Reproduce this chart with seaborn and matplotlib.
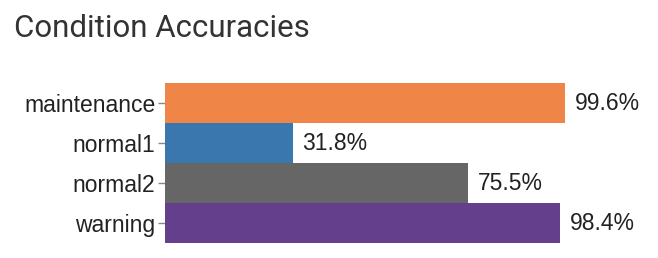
import matplotlib
matplotlib.use("Agg")
import matplotlib.pyplot as plt
import seaborn as sns
import pandas as pd

categories = ["maintenance", "normal1", "normal2", "warning"]
accuracies = [99.6, 31.8, 75.5, 98.4]
colors = ["#EF8547", "#3A77AE", "#666666", "#633F8C"]

df = pd.DataFrame({"condition": categories, "accuracy": accuracies})

sns.set_theme(style="white")
plt.rcParams["font.family"] = ["Liberation Sans", "DejaVu Sans"]

fig = plt.figure(figsize=(6.58, 2.58), dpi=100)
ax = fig.add_axes([165 / 658, 1 - 243 / 258, 401.6 / 658, 160 / 258])

sns.barplot(data=df, y="condition", x="accuracy", hue="condition",
            palette=colors, orient="h", width=1.0, ax=ax, legend=False,
            edgecolor="none", linewidth=0, saturation=1)

ax.set_xlim(0, 100)
ax.set_ylim(3.5, -0.5)
for s in ax.spines.values():
    s.set_visible(False)
ax.set_xticks([])
ax.set_xlabel("")
ax.set_ylabel("")
ax.tick_params(axis="y", left=True, length=5, width=1, color="#888888",
               pad=2, labelsize=16.5, labelcolor="#222222")

for i, v in enumerate(accuracies):
    ax.annotate(f"{v:.1f}%", xy=(v, i), xytext=(7, 0), textcoords="offset points",
                va="center", ha="left", fontsize=16.5, color="#222222")

fig.text(14 / 658, 1 - 37 / 258, "Condition Accuracies", fontsize=22.5,
         family=["Roboto", "DejaVu Sans"], color="#333333", va="baseline", ha="left")

fig.savefig("out.png", dpi=100)
